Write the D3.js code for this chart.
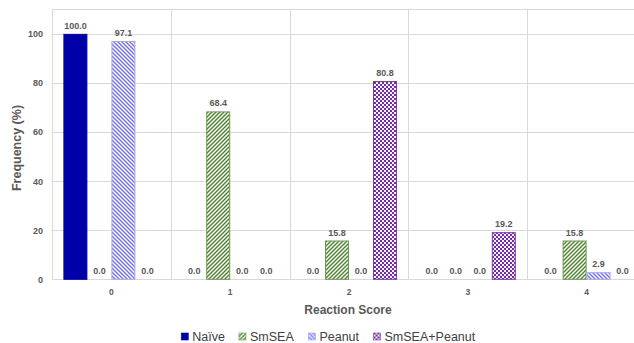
<!DOCTYPE html>
<html><head><meta charset="utf-8">
<script src="https://cdn.jsdelivr.net/npm/d3@7"></script>
<style>body{margin:0;background:#fff;} svg{display:block;}</style>
</head><body><svg id="c" width="634" height="343"></svg>
<script>
const categories = ["0","1","2","3","4"];
const seriesNames = ["Naïve","SmSEA","Peanut","SmSEA+Peanut"];
const naive = [100, 0, 0, 0, 0];
const smsea = [0, 68.4, 15.8, 0, 15.8];
const peanut = [97.1, 0, 0, 0, 2.9];
const combo = [0, 0, 80.8, 19.2, 0];
const yTicks = [0, 20, 40, 60, 80, 100];
const xTitle = "Reaction Score";
const yTitle = "Frequency (%)";

const seriesValues = [naive, smsea, peanut, combo];
const fills = ["#0000a8", "url(#pSm)", "url(#pPe)", "url(#pCo)"];
const strokes = ["#0000a8", "#6a9a4c", "#a8a8f6", "#7a3aae"];

const svg = d3.select("#c");
const font = "'Liberation Sans', Arial, sans-serif";
const mLeft = 52, mRight = 646, mTop = 9.3, mBottom = 279.3;

const defs = svg.append("defs");
function stripe(id, color, dir, w) {
  const p = defs.append("pattern").attr("id", id).attr("patternUnits", "userSpaceOnUse")
    .attr("width", 4).attr("height", 4);
  p.append("rect").attr("width", 4).attr("height", 4).attr("fill", "#fff");
  const d = dir > 0 ? "M-1,1 l2,-2 M0,4 l4,-4 M3,5 l2,-2" : "M-1,3 l2,2 M0,0 l4,4 M3,-1 l2,2";
  p.append("path").attr("d", d).attr("stroke", color).attr("stroke-width", w);
}
stripe("pSm", "#4f8030", 1, 1.4);
stripe("pPe", "#6f6fee", -1, 1.4);
const pc = defs.append("pattern").attr("id", "pCo").attr("patternUnits", "userSpaceOnUse")
  .attr("width", 4).attr("height", 4);
pc.append("rect").attr("width", 4).attr("height", 4).attr("fill", "#f4eefa");
pc.append("rect").attr("width", 2).attr("height", 2).attr("fill", "#7030a0");
pc.append("rect").attr("x", 2).attr("y", 2).attr("width", 2).attr("height", 2).attr("fill", "#7030a0");

const x0 = d3.scaleBand().domain(categories).range([mLeft, mRight]).padding(0);
const x1 = d3.scaleBand().domain(seriesNames).range([0, x0.bandwidth()]).paddingInner(0).paddingOuter(0.475);
const y = d3.scaleLinear().domain([0, 110]).range([mBottom, mTop]);

// grid
const g = svg.append("g");
g.selectAll("line.h").data(yTicks.concat([110])).join("line")
  .attr("x1", mLeft).attr("x2", mRight)
  .attr("y1", d => Math.round(y(d)) + 0.5).attr("y2", d => Math.round(y(d)) + 0.5)
  .attr("stroke", "#d9d9d9").attr("stroke-width", 1);
g.selectAll("line.v").data(categories).join("line")
  .attr("x1", d => Math.round(x0(d)) + 0.5).attr("x2", d => Math.round(x0(d)) + 0.5)
  .attr("y1", y(110)).attr("y2", y(0))
  .attr("stroke", "#d9d9d9").attr("stroke-width", 1);

// y axis labels
const yAxis = d3.axisLeft(y).tickValues(yTicks).tickSize(0).tickPadding(9);
const ya = svg.append("g").attr("transform", `translate(${mLeft},0)`).call(yAxis);
ya.select(".domain").remove();
ya.selectAll("text").attr("font-family", font).attr("font-size", 9).attr("font-weight", "bold").attr("fill", "#595959");

// x axis labels
const xAxis = d3.axisBottom(x0).tickSize(0).tickPadding(10);
const xa = svg.append("g").attr("transform", `translate(0,${mBottom})`).call(xAxis);
xa.select(".domain").remove();
xa.selectAll("text").attr("font-family", font).attr("font-size", 8.5).attr("font-weight", "bold").attr("fill", "#595959");

// bars
const data = [];
categories.forEach((c, ci) => seriesNames.forEach((s, si) => data.push({c, s, si, v: seriesValues[si][ci]})));
svg.append("g").selectAll("rect").data(data.filter(d => d.v > 0)).join("rect")
  .attr("x", d => x0(d.c) + x1(d.s) + 0.5)
  .attr("y", d => y(d.v) + 0.5)
  .attr("width", x1.bandwidth() - 1)
  .attr("height", d => y(0) - y(d.v) - 0.5)
  .attr("fill", d => fills[d.si])
  .attr("stroke", d => strokes[d.si]).attr("stroke-width", 1);

svg.append("g").selectAll("text").data(data).join("text")
  .attr("x", d => x0(d.c) + x1(d.s) + x1.bandwidth() / 2)
  .attr("y", d => y(d.v) - 5)
  .attr("text-anchor", "middle")
  .attr("font-family", font).attr("font-size", 9).attr("font-weight", "bold").attr("fill", "#595959")
  .text(d => d.v.toFixed(1));

// titles
svg.append("text").attr("x", 348).attr("y", 313.5).attr("text-anchor", "middle")
  .attr("font-family", font).attr("font-size", 12).attr("font-weight", "bold").attr("fill", "#595959")
  .text(xTitle);
svg.append("text").attr("transform", "translate(21,148) rotate(-90)").attr("text-anchor", "middle")
  .attr("font-family", font).attr("font-size", 12.5).attr("font-weight", "bold").attr("fill", "#595959")
  .text(yTitle);

// legend
const lg = svg.append("g");
const items = lg.selectAll("g").data(seriesNames).join("g");
items.append("rect").attr("width", 7).attr("height", 7).attr("y", -7.5)
  .attr("fill", (d, i) => fills[i]).attr("stroke", (d, i) => strokes[i]).attr("stroke-width", 0.6);
items.append("text").attr("x", 11).attr("y", 0)
  .attr("font-family", font).attr("font-size", 12.5).attr("fill", "#404040").text(d => d);
let cx = 0;
const gap = 14;
items.each(function() {
  const w = this.getBBox().width;
  d3.select(this).attr("transform", `translate(${cx},0)`);
  cx += w + gap;
});
const total = cx - gap;
lg.attr("transform", `translate(${328.5 - total / 2},340.5)`);
</script>
</body></html>
